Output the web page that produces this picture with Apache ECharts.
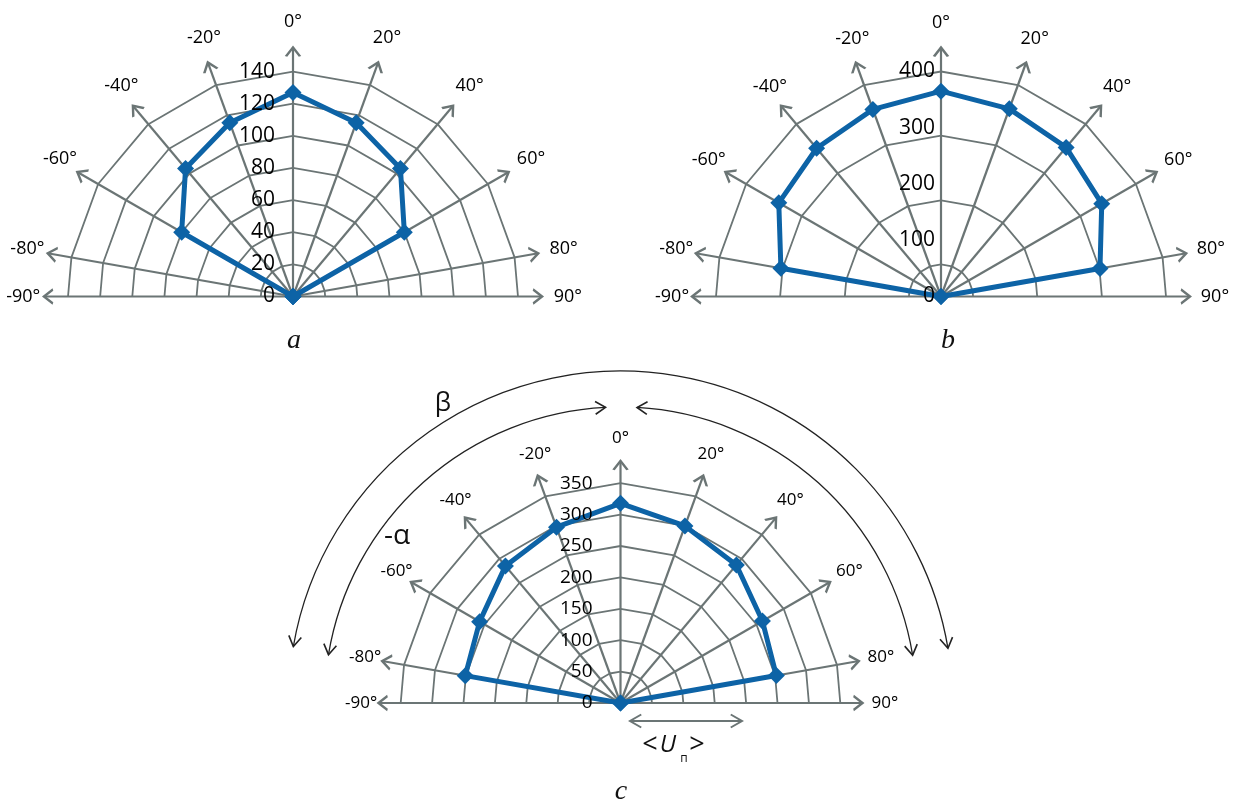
<!DOCTYPE html>
<html><head><meta charset="utf-8">
<script src="https://cdn.jsdelivr.net/npm/echarts@6/dist/echarts.min.js"></script>
<style>html,body{margin:0;padding:0;background:#fff}#c{width:1233px;height:801px}</style>
</head><body><div id="c"></div>
<script>
// ---------- data ----------
const spokeAngles = [-90, -80, -60, -40, -20, 0, 20, 40, 60, 80, 90];
const angleLabels = ['-90°', '-80°', '-60°', '-40°', '-20°', '0°', '20°', '40°', '60°', '80°', '90°'];
const seriesA = [0, 0, 80, 104, 115, 127, 115, 104, 80, 0, 0];
const seriesB = [0, 289, 333, 344, 354, 365, 355, 346, 330, 287, 0];
const seriesC = [0, 251, 259, 285, 298, 318, 300, 287, 261, 252, 0];
const ringsA = [20, 40, 60, 80, 100, 120, 140];
const ringsB = [57, 171, 286, 400];
const ringsC = [50, 100, 150, 200, 250, 300, 350];
const radiusLabelsA = [0, 20, 40, 60, 80, 100, 120, 140];
const radiusLabelsB = [0, 100, 200, 300, 400];
const radiusLabelsC = [0, 50, 100, 150, 200, 250, 300, 350];
const panelNames = ['a', 'b', 'c'];

// ---------- layout / style ----------
const BLUE = '#0d63a6', GRAY = '#6b7575', TXT = '#000';
const FONT = 'Open Sans';
const panels = [
  {vals: seriesA, rings: ringsA, rlabels: radiusLabelsA, center: [293, 296.5], scale: 1.607, tip: 155, labelR: 171, max: 180, interval: 20, margin: 18, rFont: 21, aFont: 18, name: [294, 341]},
  {vals: seriesB, rings: ringsB, rlabels: radiusLabelsB, center: [941, 296.5], scale: 0.5625, tip: 442.7, labelR: 487, max: 500, interval: 100, margin: 6, rFont: 21, aFont: 18, name: [948, 341]},
  {vals: seriesC, rings: ringsC, rlabels: radiusLabelsC, center: [620.5, 703], scale: 0.628, tip: 385.4, labelR: 421, max: 450, interval: 50, margin: 28, rFont: 19, aFont: 17, name: [621, 792]}
];
const ang = a => (a + 360) % 360;

const polar = [], angleAxis = [], radiusAxis = [], series = [];
panels.forEach((p, i) => {
  polar.push({center: p.center, radius: p.max * p.scale});
  angleAxis.push({polarIndex: i, type: 'value', min: 0, max: 360, startAngle: 90, clockwise: true,
    axisLine: {show: false}, axisTick: {show: false}, axisLabel: {show: false}, splitLine: {show: false}});
  radiusAxis.push({polarIndex: i, type: 'value', min: 0, max: p.max, interval: p.interval, z: 10,
    axisLine: {show: false}, axisTick: {show: false}, splitLine: {show: false},
    axisLabel: {margin: p.margin, fontSize: p.rFont, fontFamily: FONT, color: TXT,
      formatter: v => p.rlabels.indexOf(v) >= 0 ? String(v) : ''}});
  // rings
  p.rings.forEach(r => series.push({type: 'line', coordinateSystem: 'polar', polarIndex: i, silent: true,
    symbol: 'none', z: 1, lineStyle: {color: GRAY, width: 1.8},
    data: spokeAngles.map(a => [r, ang(a)])}));
  // spokes
  spokeAngles.forEach(a => series.push({type: 'line', coordinateSystem: 'polar', polarIndex: i, silent: true,
    symbol: 'none', z: 2, lineStyle: {color: GRAY, width: 2.2},
    data: [[0, ang(a)], [p.tip, ang(a)]]}));
  // arrow heads
  series.push({type: 'scatter', coordinateSystem: 'polar', polarIndex: i, silent: true, z: 2, clip: false,
    symbol: 'path://M0,9 L7,0 L14,9', symbolSize: [14, 9],
    itemStyle: {color: 'none', borderColor: GRAY, borderWidth: 2.2, opacity: 1},
    data: spokeAngles.map(a => ({value: [p.tip - 4.5 / p.scale, ang(a)], symbolRotate: -a}))});
  // angle labels
  series.push({type: 'scatter', coordinateSystem: 'polar', polarIndex: i, silent: true, z: 3, clip: false,
    symbol: 'circle', symbolSize: 1, itemStyle: {color: 'rgba(0,0,0,0)', opacity: 1},
    label: {show: true, position: 'inside', formatter: '{b}', fontSize: p.aFont, fontFamily: FONT, color: TXT,
      opacity: 1, textBorderWidth: 0},
    data: spokeAngles.map((a, k) => ({name: angleLabels[k], value: [p.labelR, ang(a)],
      label: {offset: [a < 0 ? 5 : 0, 0]}}))});
  // data
  series.push({type: 'line', coordinateSystem: 'polar', polarIndex: i, silent: true, z: 5,
    symbol: 'diamond', symbolSize: 17, showAllSymbol: true,
    lineStyle: {color: BLUE, width: 5}, itemStyle: {color: BLUE},
    data: p.vals.map((v, k) => [v, ang(spokeAngles[k])])});
});

// ---------- annotations ----------
const graphic = [];
function txt(x, y, t, size, opts) {
  graphic.push(Object.assign({type: 'text', x: x, y: y, z: 20,
    style: Object.assign({text: t, fontSize: size, fontFamily: FONT, fill: '#111',
      align: 'center', verticalAlign: 'middle', textAlign: 'center', textVerticalAlign: 'middle'}, opts || {})}));
}
function head(x, y, dx, dy, len, half, color, w) {
  const a = Math.atan2(dy, dx);
  graphic.push({type: 'polyline', z: 20, shape: {points: [
    [x - len * Math.cos(a - half), y - len * Math.sin(a - half)], [x, y],
    [x - len * Math.cos(a + half), y - len * Math.sin(a + half)]]},
    style: {stroke: color, lineWidth: w, fill: null}});
}
panels.forEach((p, i) => txt(p.name[0], p.name[1], panelNames[i], 28, {fontFamily: 'Liberation Serif', fontStyle: 'italic'}));

const cc = panels[2].center;
const D = Math.PI / 180;
const arcs = [
  {r: 332, s: -170.2, e: -9.5},
  {r: 296, s: -170.6, e: -92.9},
  {r: 296, s: -86.8, e: -9.3}
];
arcs.forEach(a => {
  graphic.push({type: 'arc', z: 20, shape: {cx: cc[0], cy: cc[1], r: a.r, startAngle: a.s * D, endAngle: a.e * D, clockwise: true},
    style: {stroke: '#222', lineWidth: 1.3, fill: null}});
  const ps = a.s * D, pe = a.e * D;
  head(cc[0] + a.r * Math.cos(ps), cc[1] + a.r * Math.sin(ps), Math.sin(ps), -Math.cos(ps), 12, 32 * D, '#222', 1.6);
  head(cc[0] + a.r * Math.cos(pe), cc[1] + a.r * Math.sin(pe), -Math.sin(pe), Math.cos(pe), 12, 32 * D, '#222', 1.6);
});
txt(443, 404, 'β', 26);
txt(397, 536, '-α', 28);
// <Un> with double arrow
graphic.push({type: 'line', z: 20, shape: {x1: 630, y1: 721, x2: 742, y2: 721}, style: {stroke: GRAY, lineWidth: 2}});
head(630, 721, -1, 0, 13, 30 * D, GRAY, 2);
head(742, 721, 1, 0, 13, 30 * D, GRAY, 2);
txt(650, 745, '<', 27);
txt(668, 745, 'U', 24, {fontStyle: 'italic'});
txt(684, 759, 'п', 12);
txt(697, 745, '>', 27);

const chart = echarts.init(document.getElementById('c'), null, {renderer: 'canvas'});
chart.setOption({animation: false, backgroundColor: '#fff', polar, angleAxis, radiusAxis, series, graphic});
</script></body></html>
